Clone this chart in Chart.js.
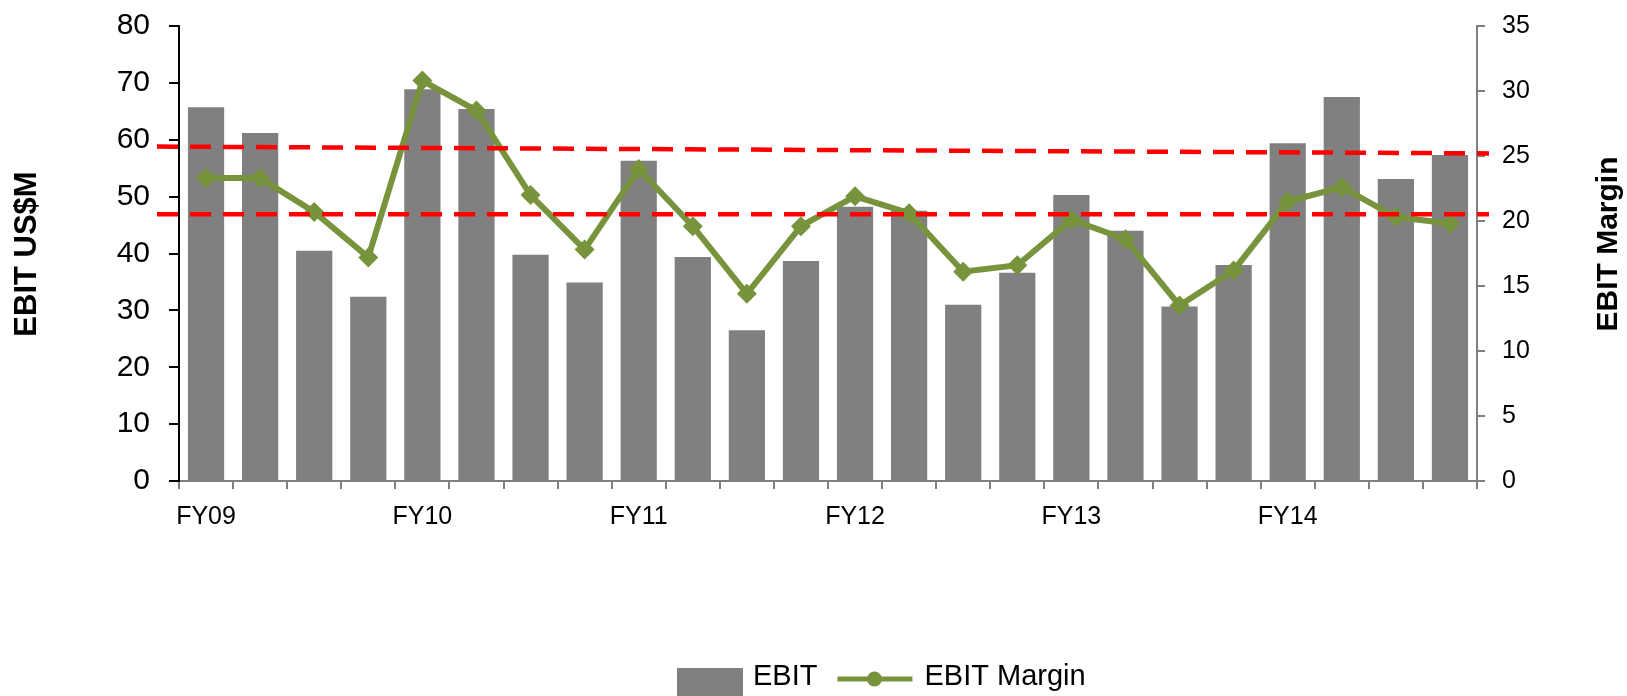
<!DOCTYPE html>
<html>
<head>
<meta charset="utf-8">
<script src="https://cdn.jsdelivr.net/npm/chart.js@4.4.1/dist/chart.umd.min.js"></script>
<style>
    html, body { margin: 0; padding: 0; background: #ffffff; }
    #wrap { position: relative; width: 1627px; height: 696px; }
</style>
</head>
<body>
<div id="wrap"><canvas id="myChart" width="1627" height="696"></canvas></div>
<script>
// Quarters FY09 Q1 .. FY14 Q4, only the first quarter of each year is labelled
const categories = ['FY09', '', '', '', 'FY10', '', '', '', 'FY11', '', '', '',
                    'FY12', '', '', '', 'FY13', '', '', '', 'FY14', '', '', ''];
const ebit = [65.7, 61.2, 40.5, 32.4, 68.9, 65.4, 39.8, 34.9, 56.3, 39.4, 26.5, 38.7,
              48.2, 47.5, 31.0, 36.6, 50.3, 44.0, 30.7, 38.0, 59.4, 67.5, 53.1, 57.3];
const ebitMargin = [23.3, 23.3, 20.7, 17.2, 30.8, 28.5, 22.0, 17.8, 24.0, 19.6, 14.4, 19.6,
                    21.9, 20.6, 16.1, 16.6, 20.1, 18.6, 13.5, 16.2, 21.5, 22.6, 20.3, 19.8];
// red dashed band, values on the left axis (start, end)
const bandUpper = [58.8, 57.6];
const bandLower = [46.9, 46.9];
const leftTicks = [0, 10, 20, 30, 40, 50, 60, 70, 80];
const rightTicks = [0, 5, 10, 15, 20, 25, 30, 35];

const FONT = "'Liberation Sans', Arial, sans-serif";
const GREEN = '#77933C';
const GREY = '#808080';

// dashed red lines drawn on top like shapes in the original
const bandLines = {
    id: 'bandLines',
    afterDatasetsDraw(chart) {
        const { ctx, chartArea, scales } = chart;
        const x0 = chartArea.left - 22;
        const x1 = chartArea.right + 12;
        ctx.save();
        ctx.strokeStyle = '#FF0000';
        ctx.lineWidth = 4.5;
        ctx.setLineDash([21, 12]);
        [bandUpper, bandLower].forEach(band => {
            ctx.beginPath();
            ctx.moveTo(x0, scales.y.getPixelForValue(band[0]));
            ctx.lineTo(x1, scales.y.getPixelForValue(band[1]));
            ctx.stroke();
        });
        ctx.restore();
    }
};

// axis titles (both read bottom to top) and the legend
const extras = {
    id: 'extras',
    afterDraw(chart) {
        const { ctx } = chart;
        ctx.save();
        ctx.fillStyle = '#000000';
        ctx.textAlign = 'center';
        ctx.textBaseline = 'middle';

        ctx.save();
        ctx.font = 'bold 31px ' + FONT;
        ctx.translate(27, 254);
        ctx.rotate(-Math.PI / 2);
        ctx.fillText('EBIT US$M', 0, 0);
        ctx.restore();

        ctx.save();
        ctx.font = 'bold 30px ' + FONT;
        ctx.translate(1609, 244);
        ctx.rotate(-Math.PI / 2);
        ctx.fillText('EBIT Margin', 0, 0);
        ctx.restore();

        // legend
        const ds = chart.data.datasets;
        const ly = 679;
        let x = 677;
        ctx.fillStyle = ds[0].backgroundColor;
        ctx.fillRect(x, 668, 66, 34);
        x += 76;
        ctx.fillStyle = '#000000';
        ctx.font = '29px ' + FONT;
        ctx.textAlign = 'left';
        ctx.textBaseline = 'alphabetic';
        ctx.fillText(ds[0].label, x, 685);
        x += ctx.measureText(ds[0].label).width + 20;

        ctx.strokeStyle = ds[1].borderColor;
        ctx.lineWidth = 5;
        ctx.beginPath();
        ctx.moveTo(x, ly);
        ctx.lineTo(x + 75, ly);
        ctx.stroke();
        ctx.fillStyle = ds[1].borderColor;
        ctx.beginPath();
        ctx.arc(x + 37, ly, 7.5, 0, Math.PI * 2);
        ctx.fill();
        x += 87;
        ctx.fillStyle = '#000000';
        ctx.fillText(ds[1].label, x, 685);
        ctx.restore();
    }
};

const ctx = document.getElementById('myChart').getContext('2d');
new Chart(ctx, {
    type: 'bar',
    data: {
        labels: categories,
        datasets: [{
            label: 'EBIT',
            data: ebit,
            backgroundColor: GREY,
            borderWidth: 0,
            barPercentage: 0.67,
            categoryPercentage: 1.0,
            yAxisID: 'y',
            order: 2
        }, {
            type: 'line',
            label: 'EBIT Margin',
            data: ebitMargin,
            borderColor: GREEN,
            backgroundColor: GREEN,
            borderWidth: 6,
            pointStyle: 'rectRot',
            pointRadius: 10,
            pointBackgroundColor: GREEN,
            pointBorderWidth: 0,
            tension: 0,
            yAxisID: 'y2',
            order: 1
        }]
    },
    options: {
        responsive: false,
        animation: false,
        layout: { padding: { top: 26, left: 0, right: 0, bottom: 0 } },
        plugins: {
            legend: { display: false },
            tooltip: { enabled: false }
        },
        scales: {
            x: {
                offset: true,
                afterFit(scale) { scale.height = 215; },
                border: { display: true, color: GREY, width: 2 },
                grid: {
                    offset: true,
                    drawOnChartArea: false,
                    drawTicks: true,
                    tickLength: 8,
                    color: GREY,
                    lineWidth: 2
                },
                ticks: {
                    autoSkip: false,
                    maxRotation: 0,
                    color: '#000000',
                    padding: 13,
                    font: { family: FONT, size: 25 }
                }
            },
            y: {
                position: 'left',
                min: 0,
                max: 80,
                afterFit(scale) {
                    scale.width = 179;
                    scale.paddingTop = 10;
                    scale.paddingBottom = 10;
                },
                afterBuildTicks(scale) { scale.ticks = leftTicks.map(v => ({ value: v })); },
                border: { display: true, color: '#000000', width: 2 },
                grid: {
                    drawOnChartArea: false,
                    tickLength: 10,
                    color: '#000000',
                    lineWidth: 2
                },
                ticks: {
                    color: '#000000',
                    padding: 19,
                    font: { family: FONT, size: 30 }
                }
            },
            y2: {
                position: 'right',
                min: 0,
                max: 35,
                afterFit(scale) {
                    scale.width = 150;
                    scale.paddingTop = 10;
                    scale.paddingBottom = 10;
                },
                afterBuildTicks(scale) { scale.ticks = rightTicks.map(v => ({ value: v })); },
                border: { display: true, color: GREY, width: 2 },
                grid: {
                    drawOnChartArea: false,
                    tickLength: 8,
                    color: GREY,
                    lineWidth: 2
                },
                ticks: {
                    color: '#000000',
                    padding: 17,
                    font: { family: FONT, size: 25 }
                }
            }
        }
    },
    plugins: [bandLines, extras]
});
</script>
</body>
</html>
